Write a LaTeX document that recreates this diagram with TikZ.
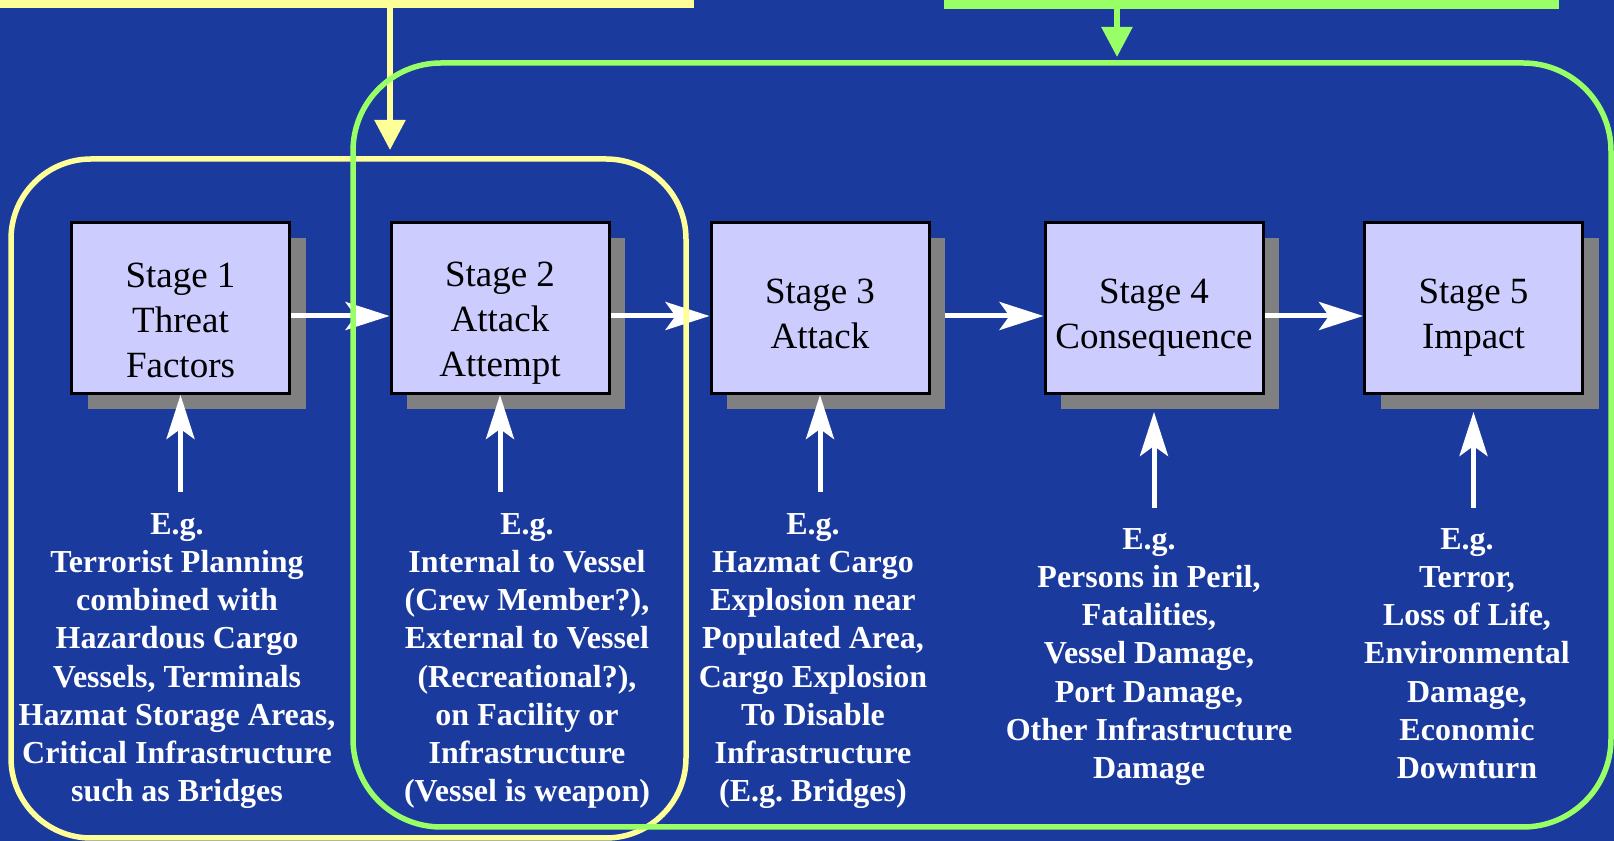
\documentclass[tikz,border=0pt]{standalone}
\usepackage{fontspec}
\setmainfont{Liberation Serif}
\usetikzlibrary{arrows.meta,calc,shadows}
\definecolor{slideblue}{RGB}{27,58,158}
\definecolor{boxfill}{RGB}{204,204,255}
\definecolor{shadowgray}{RGB}{128,128,128}
\definecolor{hiyellow}{RGB}{255,255,153}
\definecolor{higreen}{RGB}{153,255,102}
\frenchspacing

\begin{document}
\begin{tikzpicture}[x=0.5pt,y=0.5pt,
    stagebox/.style={draw=black,line width=1.5pt,fill=boxfill,minimum width=109pt,minimum height=85.5pt,
        inner sep=0pt,align=center,font=\fontsize{18.5}{22.5}\selectfont,
        drop shadow={shadow xshift=8pt,shadow yshift=-8pt,fill=shadowgray,opacity=1}},
    egtext/.style={text=white,inner sep=0pt,anchor=north,align=center,font=\fontsize{16}{19.1}\selectfont\bfseries},
    flow/.style={draw=white,line width=2.5pt,-{Stealth[length=22pt,width=14pt,inset=5pt]}},
    feed/.style={line width=2.75pt,-{Triangle[length=15pt,width=15pt]}},
    frame/.style={line width=2.75pt}]
\useasboundingbox (0,0) rectangle (1614,841);
\fill[slideblue] (0,0) rectangle (1614,841);
% bars from the boxes above
\fill[hiyellow] (0,833) rectangle (694,841);
\fill[higreen] (944,832) rectangle (1559,841);
\coordinate (ybar) at (390,833);
\coordinate (yin) at (390,691);
\coordinate (gbar) at (1117,832);
\coordinate (gin) at (1117,784);
\draw[feed,hiyellow] (ybar) -- (yin);
\draw[feed,higreen] (gbar) -- (gin);
% stages
\node[stagebox] (s1) at (180.5,533) {\rule{0pt}{24.5pt}Stage 1\\Threat\\Factors};
\node[stagebox] (s2) at (500,533) {\rule{0pt}{27pt}Stage 2\\Attack\\Attempt};
\node[stagebox] (s3) at (820,533) {\rule{0pt}{18.5pt}Stage 3\\Attack};
\node[stagebox] (s4) at (1154,533) {\rule{0pt}{22pt}Stage 4\\Consequence};
\node[stagebox] (s5) at (1473.5,533) {\rule{0pt}{22pt}Stage 5\\Impact};
% examples
\node[egtext] (e1) at (177,328) {E.g.\\Terrorist Planning\\combined with\\Hazardous Cargo\\Vessels, Terminals\\Hazmat Storage Areas,\\Critical Infrastructure\\such as Bridges};
\node[egtext] (e2) at (527,328) {E.g.\\Internal to Vessel\\(Crew Member?),\\External to Vessel\\(Recreational?),\\on Facility or\\Infrastructure\\(Vessel is weapon)};
\node[egtext] (e3) at (813,328) {E.g.\\Hazmat Cargo\\Explosion near\\Populated Area,\\Cargo Explosion\\To Disable\\Infrastructure\\(E.g. Bridges)};
\node[egtext] (e4) at (1149,313) {E.g.\\Persons in Peril,\\Fatalities,\\Vessel Damage,\\Port Damage,\\Other Infrastructure\\Damage};
\node[egtext] (e5) at (1467,313) {E.g.\\Terror,\\Loss of Life,\\Environmental\\Damage,\\Economic\\Downturn};
% arrows
\draw[flow] ([yshift=-4pt]s1.east) -- ([yshift=-4pt]s2.west);
\draw[flow] ([yshift=-4pt]s2.east) -- ([yshift=-4pt]s3.west);
\draw[flow] ([xshift=7pt,yshift=-4pt]s3.east) -- ([yshift=-4pt]s4.west);
\draw[flow] ([yshift=-4pt]s4.east) -- ([yshift=-4pt]s5.west);
\draw[flow] ($(s1.south |- e1.north)+(0,21)$) -- (s1.south);
\draw[flow] ($(s2.south |- e2.north)+(0,21)$) -- (s2.south);
\draw[flow] ($(s3.south |- e3.north)+(0,21)$) -- (s3.south);
\draw[flow] ($(s4.south |- e4.north)+(0,20)$) -- ($(s4.south)+(0,-17)$);
\draw[flow] ($(s5.south |- e5.north)+(0,20)$) -- ($(s5.south)+(0,-17)$);
% groupings
\draw[frame,hiyellow,rounded corners=40pt] (11,3) rectangle (686,682);
\draw[frame,higreen,rounded corners=44pt] (353,14) rectangle (1611,778);
\end{tikzpicture}
\end{document}
